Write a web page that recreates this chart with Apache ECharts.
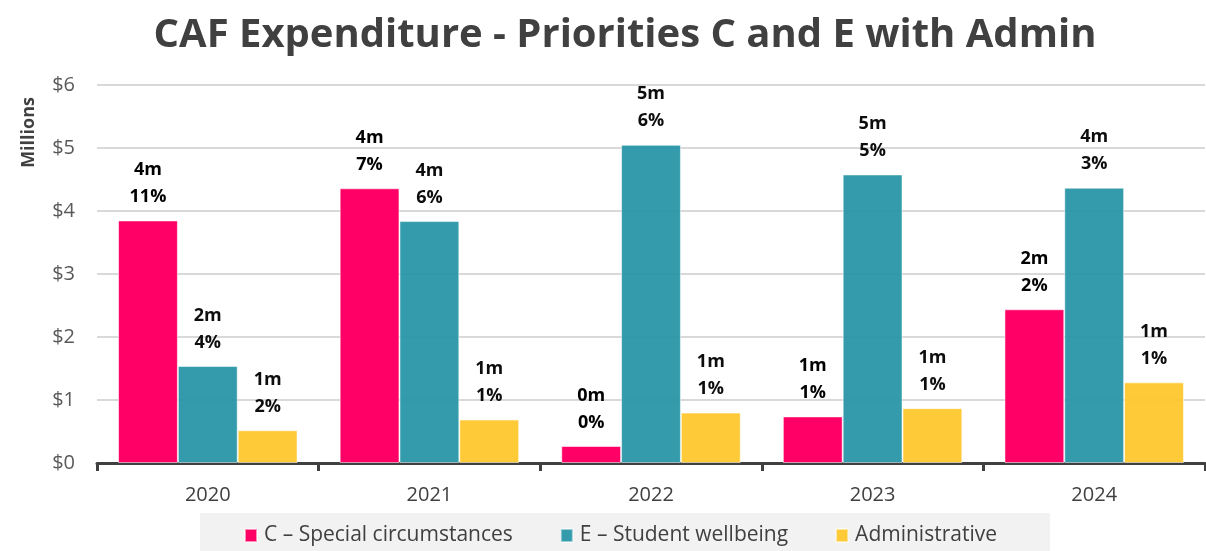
<!DOCTYPE html>
<html>
<head>
<meta charset="utf-8">
<title>CAF Expenditure</title>
<style>
  html, body { margin: 0; padding: 0; background: #fff; }
  #chart { width: 1206px; height: 551px; }
</style>
</head>
<body>
<div id="chart"></div>
<script src="https://cdn.jsdelivr.net/npm/echarts@6/dist/echarts.min.js"></script>
<script>
// data (millions of dollars)
var years = ["2020", "2021", "2022", "2023", "2024"];
var specialCirc = [3.85, 4.36, 0.27, 0.74, 2.44];
var wellbeing = [1.54, 3.84, 5.05, 4.58, 4.37];
var admin = [0.52, 0.69, 0.80, 0.87, 1.28];
// share of total, shown under the rounded value
var specialPct = [11, 7, 0, 1, 2];
var wellbeingPct = [4, 6, 6, 5, 3];
var adminPct = [2, 1, 1, 1, 1];
var yTicks = [0, 1, 2, 3, 4, 5, 6];

var FONT = "Open Sans";

function barLabel(pcts) {
  return {
    show: true,
    position: "top",
    distance: 10,
    color: "#000",
    fontFamily: FONT,
    fontWeight: "bold",
    fontSize: 18,
    lineHeight: 27,
    formatter: function (p) {
      return Math.round(p.value) + "m\n" + pcts[p.dataIndex] + "%";
    }
  };
}

function makeSeries(name, values, pcts, color, opacity) {
  return {
    name: name,
    type: "bar",
    data: values,
    barGap: "0%",
    barCategoryGap: "19%",
    itemStyle: {
      color: color,
      opacity: opacity,
      borderColor: "rgba(255,255,255,0.55)",
      borderWidth: 1
    },
    label: barLabel(pcts)
  };
}

var chart = echarts.init(document.getElementById("chart"));
chart.setOption({
  animation: false,
  title: {
    text: "CAF Expenditure - Priorities C and E with Admin",
    left: 620,
    textAlign: "center",
    top: 11,
    textStyle: {
      fontFamily: FONT,
      fontWeight: "bold",
      fontSize: 40,
      color: "#404040"
    }
  },
  // axis title, rotated beside the value labels
  graphic: [{
    type: "text",
    left: 20,
    top: 97,
    rotation: Math.PI / 2,
    style: {
      text: "Millions",
      fontFamily: FONT,
      fontWeight: "bold",
      fontSize: 18,
      fill: "#404040"
    }
  }],
  grid: { left: 97, right: 1, top: 85, bottom: 88 },
  legend: {
    bottom: -10,
    left: 200,
    padding: [12, 53, 15, 44],
    backgroundColor: "#f2f2f2",
    itemWidth: 12,
    itemHeight: 13,
    itemGap: 47,
    icon: "rect",
    textStyle: { fontFamily: FONT, fontSize: 21, color: "#404040", padding: [0, 0, 0, 2] },
    data: ["C – Special circumstances", "E – Student wellbeing", "Administrative"]
  },
  xAxis: {
    type: "category",
    data: years,
    axisLine: { lineStyle: { color: "#404040", width: 3 } },
    axisTick: { show: true, length: 8, lineStyle: { color: "#404040", width: 3 } },
    axisLabel: { fontFamily: FONT, fontSize: 20, color: "#404040", margin: 22 }
  },
  yAxis: {
    type: "value",
    min: yTicks[0],
    max: yTicks[yTicks.length - 1],
    interval: 1,
    axisLine: { show: false },
    axisTick: { show: false },
    axisLabel: {
      fontFamily: FONT,
      fontSize: 20,
      color: "#595959",
      margin: 22,
      formatter: function (v) { return "$" + v; }
    },
    splitLine: { lineStyle: { color: "#d9d9d9", width: 2 } }
  },
  series: [
    makeSeries("C – Special circumstances", specialCirc, specialPct, "#ff0066", 1),
    makeSeries("E – Student wellbeing", wellbeing, wellbeingPct, "#2896a6", 0.95),
    makeSeries("Administrative", admin, adminPct, "#ffc72c", 0.95)
  ]
});
</script>
</body>
</html>
